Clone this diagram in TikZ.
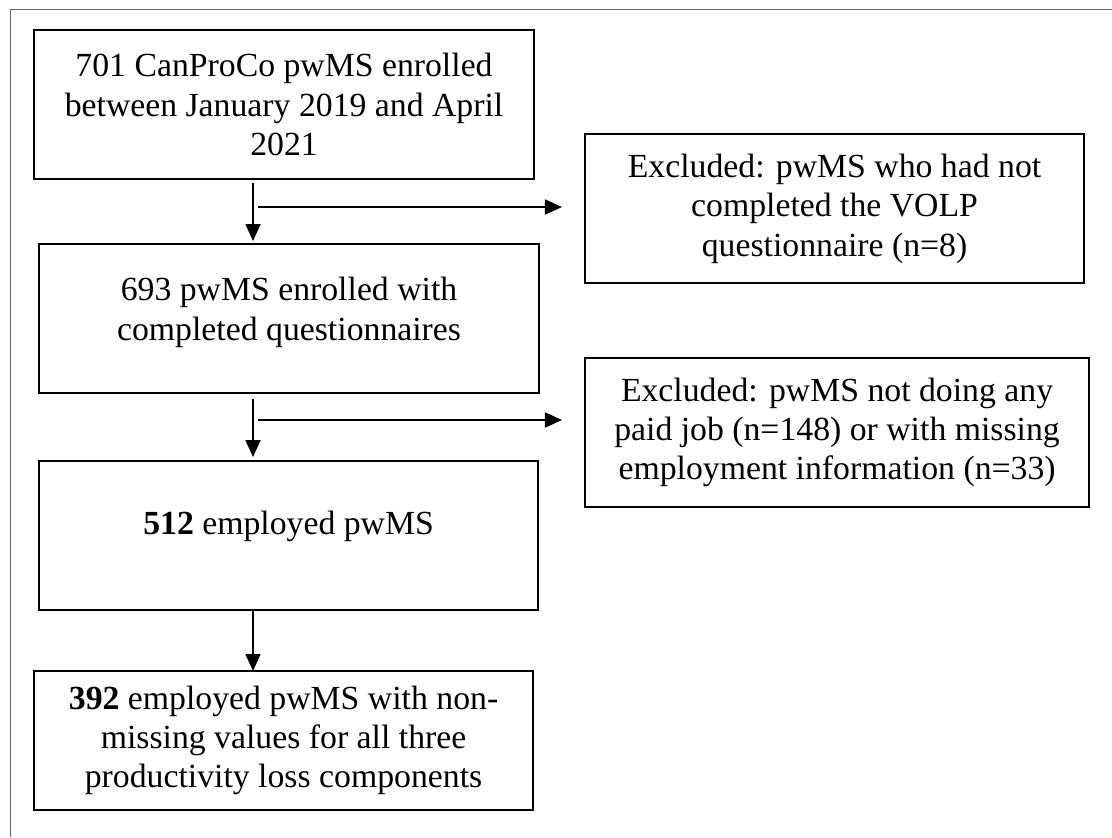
\documentclass[tikz,border=0pt]{standalone}
\usepackage{fontspec}
\setmainfont{Liberation Serif}
\usetikzlibrary{arrows.meta, positioning, calc}

\begin{document}
\begin{tikzpicture}[
    x=0.025cm, y=-0.025cm,
    box/.style={
        rectangle,
        draw=black,
        line width=1.3pt,
        minimum width=12.5cm,
        minimum height=3.725cm,
        align=center,
        font=\fontsize{24}{28}\selectfont,
        outer sep=0pt,
        anchor=north west
    },
    arrow/.style={
        -{Triangle[length=0.425cm, width=0.375cm]},
        line width=1.2pt
    },
    frame/.style={
        draw=black!60,
        line width=0.5pt
    }
]
\useasboundingbox (0,0) rectangle (1112,837);

% outer frame (cut off at right and bottom)
\draw[frame] (10,837) |- (1112,9);

% main column
\node[box] (enrolled) at (34,30) {701 CanProCo pwMS enrolled\\between January 2019 and April\\2021};
\node[box] (completed) at (39,244) {693 pwMS enrolled with\\completed questionnaires\\[-0.5\baselineskip]\mbox{}};
\node[box, minimum width=12.475cm] (employed) at (39,461) {\textbf{512} employed pwMS\\[-0.35\baselineskip]\mbox{}};
\node[box, minimum width=12.475cm, minimum height=3.475cm] (final) at (34,671) {\textbf{392} employed pwMS with non-\\missing values for all three\\productivity loss components};

% exclusion boxes
\node[box, minimum width=12.475cm] (noVOLP) at (585,134) {Excluded: pwMS who had not\\completed the VOLP\\questionnaire (n=8)};
\node[box, minimum width=12.6cm] (noJob) at (585,358) {Excluded: pwMS not doing any\\paid job (n=148) or with missing\\employment information (n=33)};

% flow arrows
\coordinate (vline) at (253,0);
\draw[arrow, shorten <=0.1cm, shorten >=0.075cm] (enrolled.south -| vline) -- (completed.north -| vline);
\draw[arrow, shorten <=0.15cm, shorten >=0.1cm] (completed.south -| vline) -- (employed.north -| vline);
\draw[arrow] (employed.south -| vline) -- (final.north -| vline);

% exclusion arrows
\coordinate (branch1) at (258,207);
\coordinate (branch2) at (258,420);
\draw[arrow, shorten >=0.575cm] (branch1) -- (branch1 -| noVOLP.west);
\draw[arrow, shorten >=0.575cm] (branch2) -- (branch2 -| noJob.west);

\end{tikzpicture}
\end{document}
